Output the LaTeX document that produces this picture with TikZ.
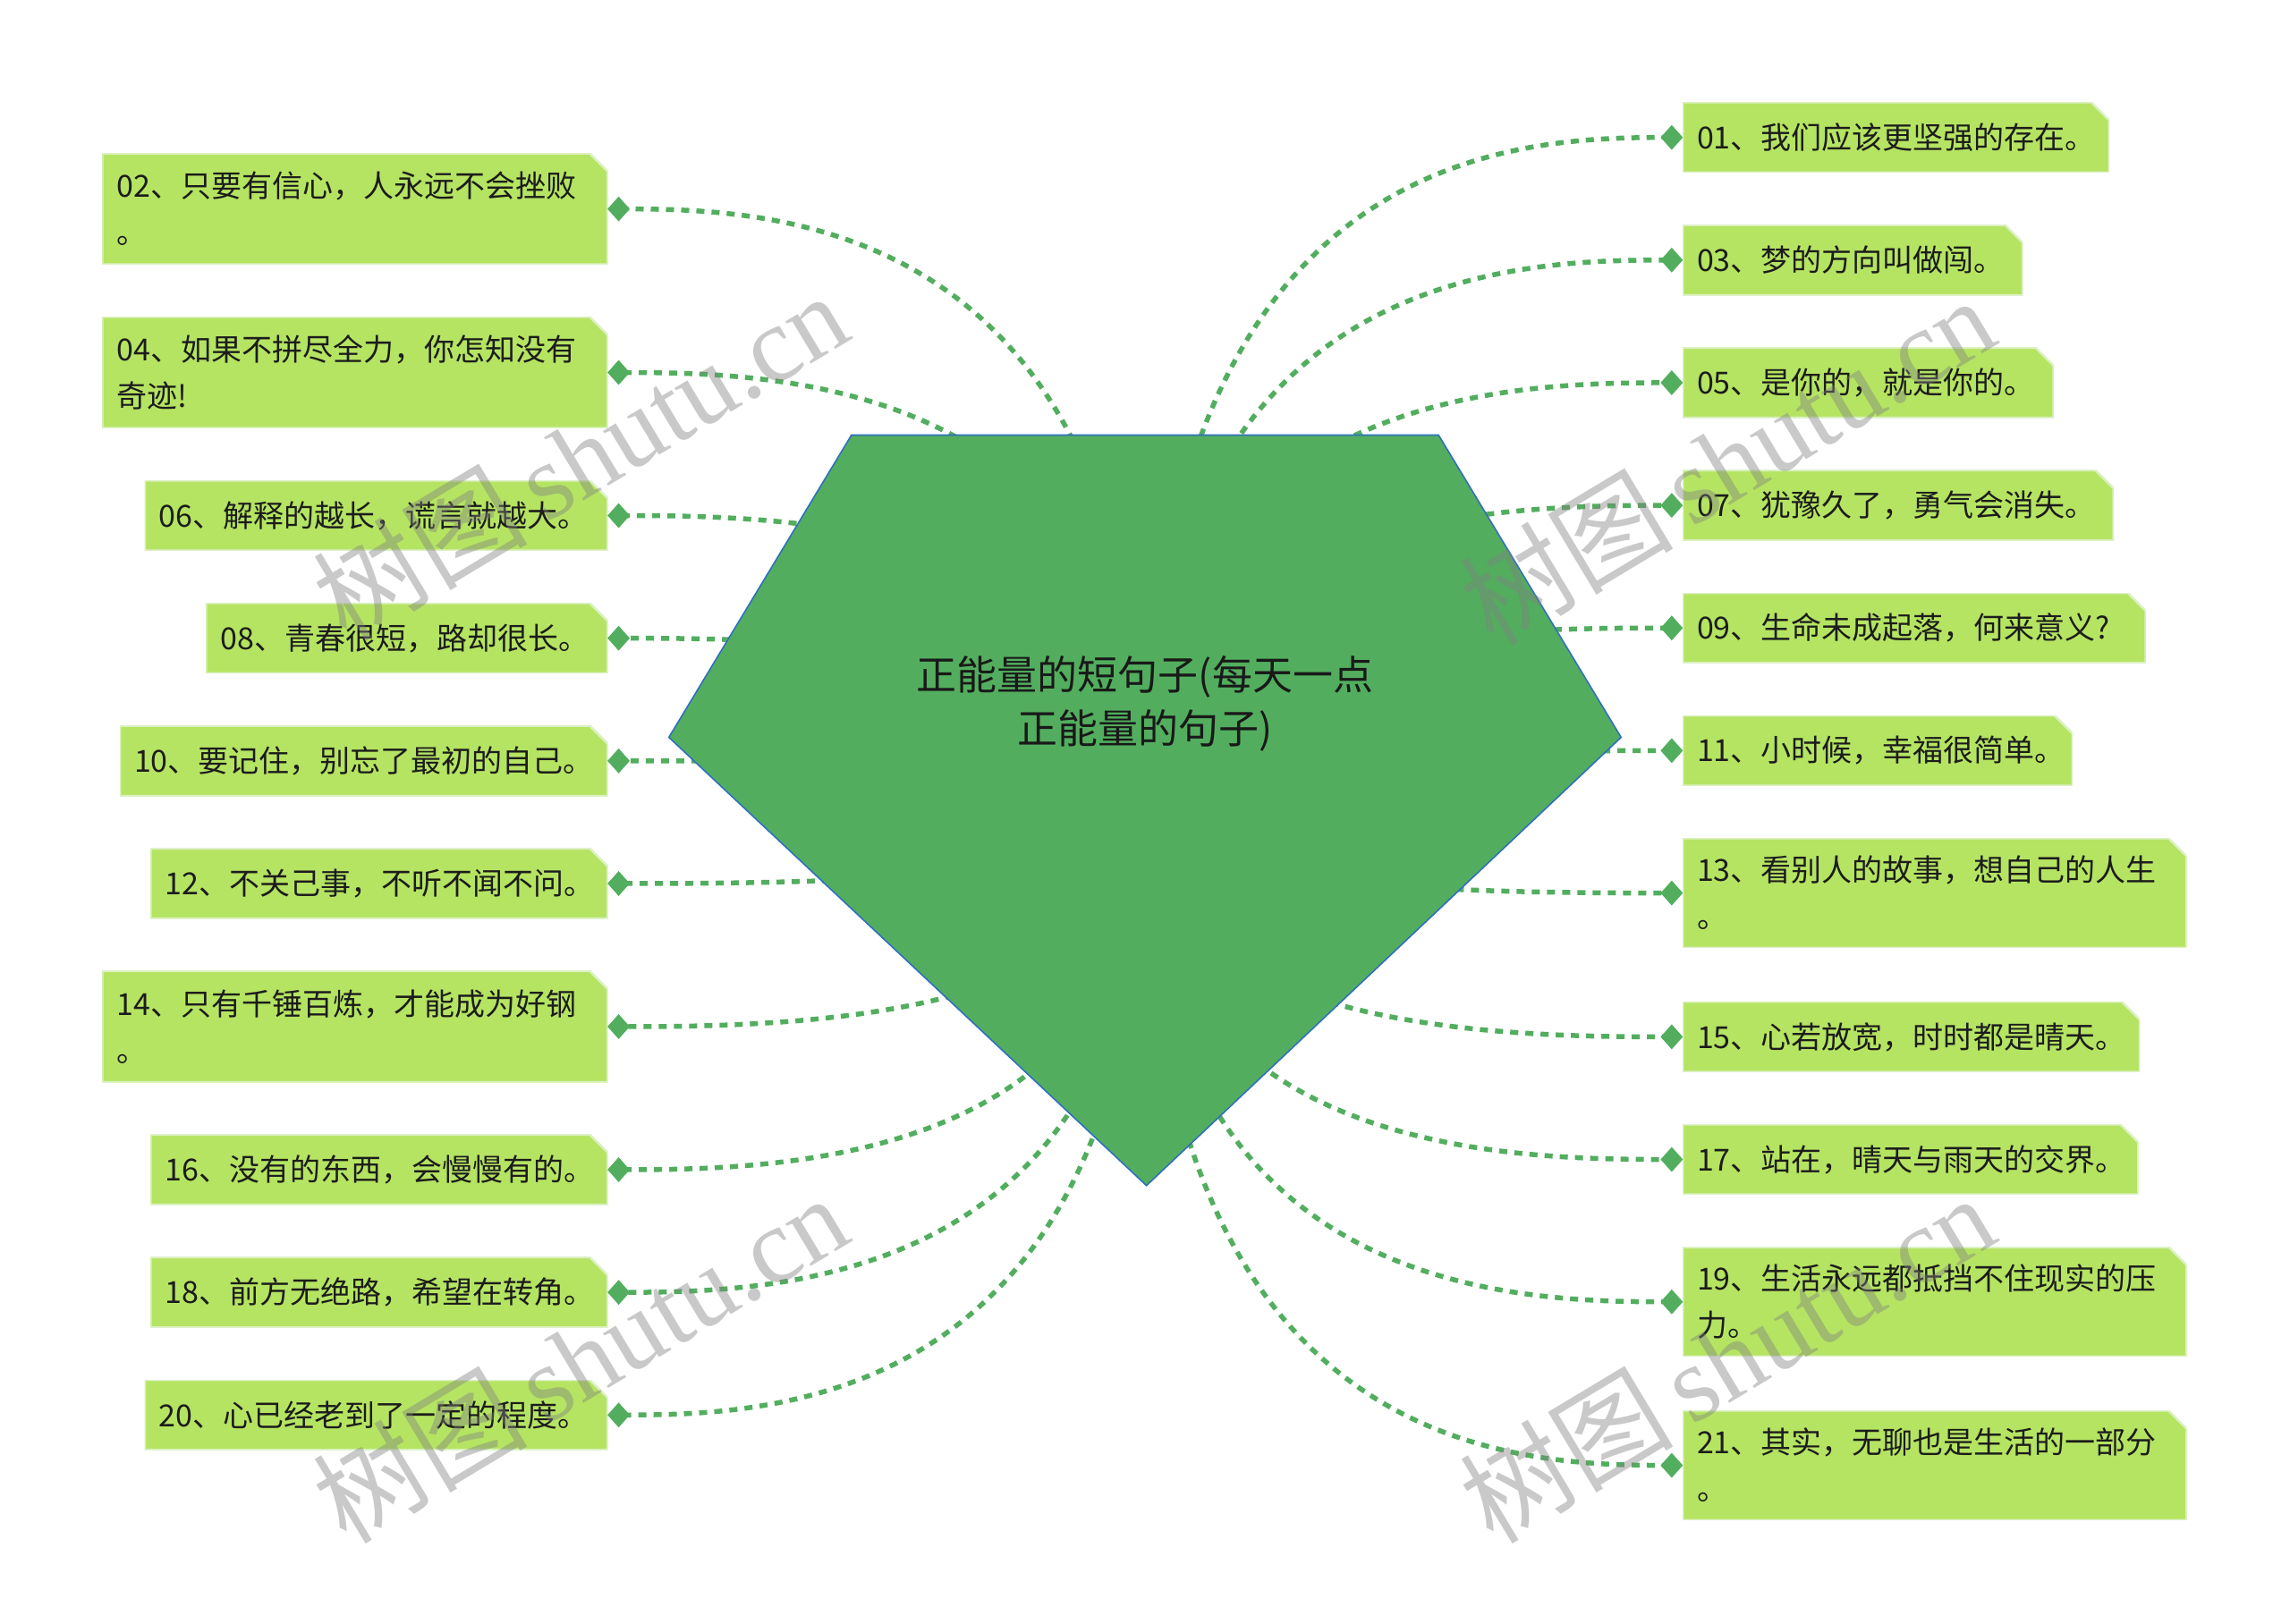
\documentclass[tikz,border=0pt]{standalone}
\usepackage{fontspec}
\setmainfont{Noto Sans CJK SC}
\newfontfamily\wmserif{Liberation Serif}
\newfontfamily\wmcjk{Noto Sans CJK SC}
\usetikzlibrary{shapes.geometric,calc}
\pgfdeclarelayer{back}\pgfdeclarelayer{bg}\pgfdeclarelayer{fg}\pgfsetlayers{back,bg,main,fg}
\definecolor{boxfill}{HTML}{B5E462}
\definecolor{boxedge}{HTML}{DCF1C4}
\definecolor{mmgreen}{HTML}{52AE5E}
\definecolor{pentedge}{HTML}{2F6FBF}
\definecolor{txt}{HTML}{1C1C1C}
\tikzset{
  box/.style={rectangle, inner xsep=16pt, inner ysep=0pt, anchor=north west,
    font=\fontsize{34}{52}\selectfont, text=txt, align=left,
    path picture={
      \fill[boxfill, draw=boxedge, line width=2.5pt]
        (path picture bounding box.south west) -- (path picture bounding box.north west)
        -- ([xshift=-20pt]path picture bounding box.north east)
        -- ([yshift=-20pt]path picture bounding box.north east)
        -- (path picture bounding box.south east) -- cycle;}},
  dia/.style={diamond, fill=mmgreen, inner sep=0pt, minimum width=25pt, minimum height=28pt},
  conn/.style={draw=mmgreen, line width=5.5pt, dash pattern=on 9pt off 8pt},
  wm/.style={rotate=31, text=gray, text opacity=0.42, inner sep=0pt}
}
\newcommand\qbox[6]{%
  \pgfmathsetmacro\qbw{#4*1.6327}%
  \pgfmathsetmacro\qbh{#5*1.6327}%
  \pgfmathsetmacro\qtw{#4*1.6327-32}%
  \node[box, minimum width=\qbw pt, minimum height=\qbh pt, text width=\qtw pt] (b#1) at (#2,#3) {#6};}
\newcommand\rconn[1]{\draw[conn] (rc) .. controls (rc |- d#1) and ($(rc |- d#1)!0.72!(d#1)$) .. (d#1.center);}
\begin{document}
\begin{tikzpicture}[x=1.6327pt,y=-1.6327pt]
\useasboundingbox (0,0) rectangle (1568,1112);
\begin{pgfonlayer}{back}
\fill[white] (0,0) rectangle (1568,1112);
\end{pgfonlayer}

% root pentagon
\coordinate (p1) at (583,298);
\coordinate (p2) at (985,298);
\coordinate (p3) at (1110,505);
\coordinate (p4) at (785,812);
\coordinate (p5) at (458,505);
\coordinate (rc) at (784,555);
\fill[mmgreen, draw=pentedge, line width=1.6pt] (p1) -- (p2) -- (p3) -- (p4) -- (p5) -- cycle;
\node[font=\fontsize{45}{60}\selectfont, text=txt!90!black, align=center] (root) at (784,482)
  {正能量的短句子(每天一点\\正能量的句子)};

% right boxes
\qbox{01}{1152}{70}{292}{48}{01、我们应该更坚强的存在。}
\qbox{03}{1152}{154}{233}{48}{03、梦的方向叫做闯。}
\qbox{05}{1152}{238}{254}{48}{05、是你的，就是你的。}
\qbox{07}{1152}{322}{295}{48}{07、犹豫久了，勇气会消失。}
\qbox{09}{1152}{406}{317}{48}{09、生命未成起落，何来意义?}
\qbox{11}{1152}{490}{267}{48}{11、小时候，幸福很简单。}
\qbox{13}{1152}{574}{345}{75}{13、看别人的故事，想自己的人生\\。}
\qbox{15}{1152}{686}{313}{48}{15、心若放宽，时时都是晴天。}
\qbox{17}{1152}{770}{312}{48}{17、站在，晴天与雨天的交界。}
\qbox{19}{1152}{854}{345}{75}{19、生活永远都抵挡不住现实的压\\力。}
\qbox{21}{1152}{966}{345}{75}{21、其实，无聊也是生活的一部分\\。}
% left boxes
\qbox{02}{70}{105}{346}{76}{02、只要有信心，人永远不会挫败\\。}
\qbox{04}{70}{217}{346}{76}{04、如果不拼尽全力，你怎知没有\\奇迹!}
\qbox{06}{99}{329}{317}{48}{06、解释的越长，谎言就越大。}
\qbox{08}{141}{413}{275}{48}{08、青春很短，路却很长。}
\qbox{10}{82}{497}{334}{48}{10、要记住，别忘了最初的自己。}
\qbox{12}{103}{581}{313}{48}{12、不关己事，不听不闻不问。}
\qbox{14}{70}{665}{346}{76}{14、只有千锤百炼，才能成为好钢\\。}
\qbox{16}{103}{777}{313}{48}{16、没有的东西，会慢慢有的。}
\qbox{18}{103}{861}{313}{48}{18、前方无绝路，希望在转角。}
\qbox{20}{99}{945}{317}{48}{20、心已经老到了一定的程度。}

% diamonds
\foreach \n in {01,03,05,07,09,11,13,15,17,19,21}
  \node[dia] (d\n) at ([xshift=-12pt]b\n.west) {};
\foreach \n in {02,04,06,08,10,12,14,16,18,20}
  \node[dia] (d\n) at ([xshift=12pt]b\n.east) {};

% connectors
\begin{pgfonlayer}{bg}
\foreach \n in {01,02,03,04,05,06,07,08,09,10,11,12,13,14,15,16,17,18,19,20,21}
  {\rconn{\n}}
\end{pgfonlayer}

% watermarks
\begin{pgfonlayer}{fg}
\foreach \wx/\wy [count=\i] in {397/312, 1182/315, 397/930, 1182/930}
  \node[wm] (wm\i) at (\wx,\wy) {\fontsize{120}{120}\selectfont\wmcjk 树图\,\wmserif shutu.cn};
\end{pgfonlayer}
\end{tikzpicture}
\end{document}
